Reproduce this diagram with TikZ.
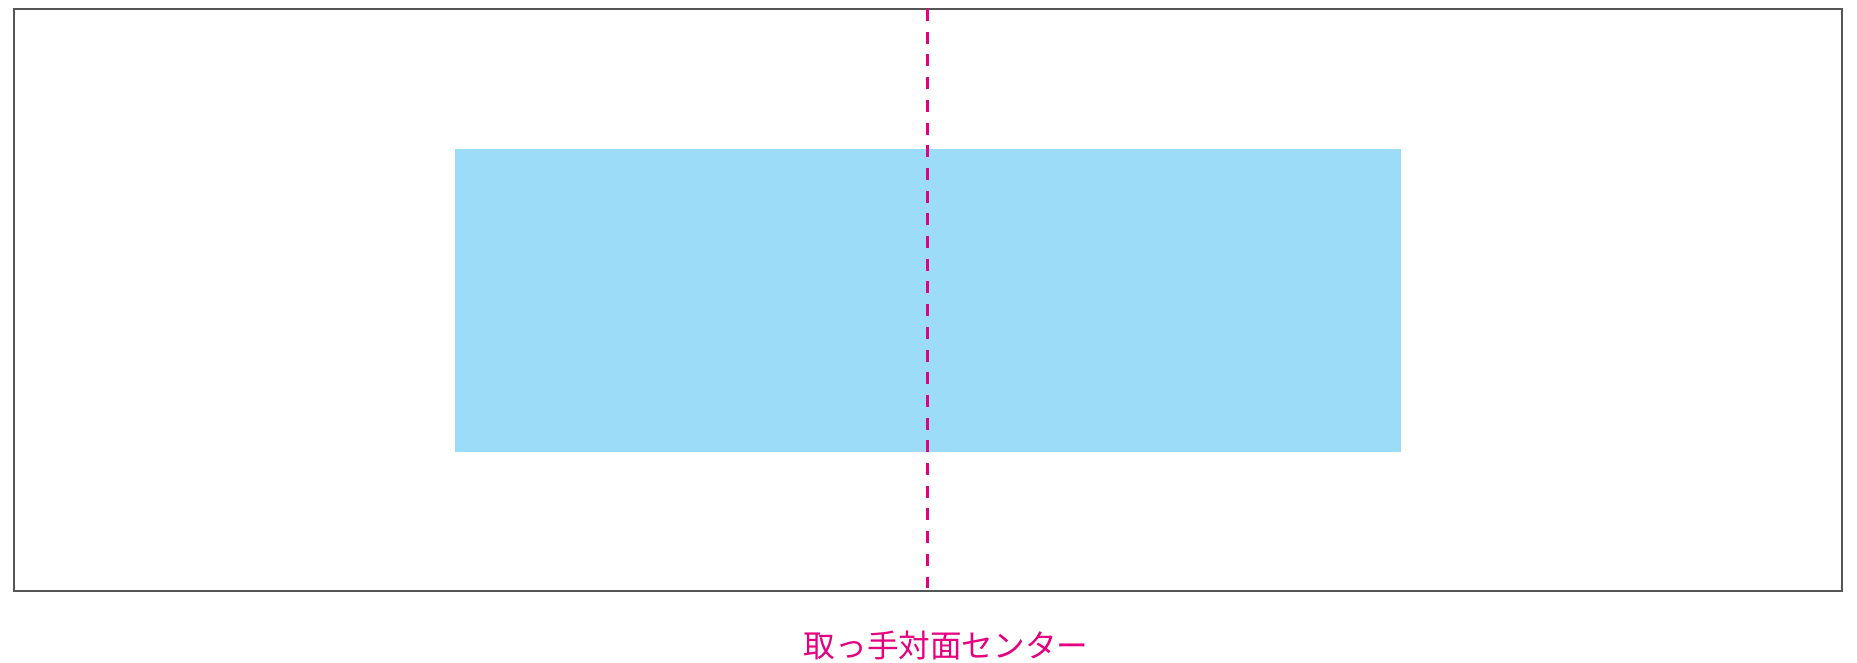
\documentclass[tikz,border=0pt]{standalone}
\usepackage{fontspec}
\newfontfamily\cjk{Noto Sans CJK JP}
\definecolor{frame}{HTML}{555555}
\definecolor{skyblue}{HTML}{9DDCF8}
\definecolor{mag}{HTML}{E4007F}
\begin{document}
\begin{tikzpicture}[x=1pt,y=-1pt,
  outerbox/.style={draw=frame,line width=2pt},
  panel/.style={fill=skyblue},
  centerline/.style={draw=mag,line width=3pt,dash pattern=on 12pt off 10.7pt},
  lbl/.style={text=mag,font=\cjk\fontsize{31.6}{36}\selectfont,inner sep=0pt}]
\useasboundingbox (0,0) rectangle (1857,662);
\draw[outerbox] (13.5,8.5) rectangle (1842,591);
\fill[panel] (455,149) rectangle (1401,452);
\coordinate (top) at (927,9);
\coordinate (bot) at (927,588);
\draw[centerline] (top) -- (bot);
\node[lbl,anchor=base] (label) at (946,657) {取っ手対面センター};
\end{tikzpicture}
\end{document}
